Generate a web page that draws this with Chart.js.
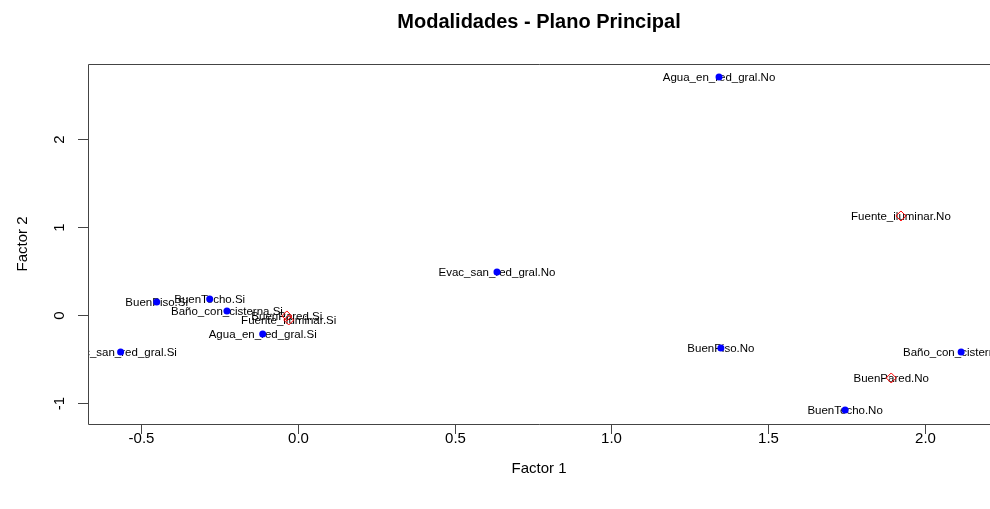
<!DOCTYPE html>
<html>
<head>
<meta charset="utf-8">
<script src="https://cdn.jsdelivr.net/npm/chart.js@4/dist/chart.umd.min.js"></script>
<style>
  html, body { margin: 0; padding: 0; background: #ffffff; }
  #wrap { width: 990px; height: 509px; position: relative; }
</style>
</head>
<body>
<div id="wrap"><canvas id="c" width="990" height="509"></canvas></div>
<script>
// Active categories (blue filled points)
const activeLabels = [
  "Agua_en_red_gral.No", "Evac_san_red_gral.No", "BuenPiso.Si", "BuenTecho.Si",
  "Baño_con_cisterna.Si", "Agua_en_red_gral.Si", "Evac_san_red_gral.Si",
  "BuenPiso.No", "Baño_con_cisterna.No", "BuenTecho.No"
];
const activeF1 = [1.343, 0.635, -0.450, -0.281, -0.226, -0.112, -0.565, 1.349, 2.115, 1.745];
const activeF2 = [2.705, 0.489, 0.148, 0.182, 0.045, -0.216, -0.420, -0.375, -0.420, -1.080];

// Supplementary categories (red open diamonds)
const supLabels = ["Fuente_iluminar.No", "BuenPared.No", "BuenPared.Si", "Fuente_iluminar.Si"];
const supF1 = [1.923, 1.892, -0.035, -0.029];
const supF2 = [1.125, -0.716, -0.011, -0.057];

// Axis ticks
const xTicks = [-0.5, 0.0, 0.5, 1.0, 1.5, 2.0];
const xTickLabels = ["-0.5", "0.0", "0.5", "1.0", "1.5", "2.0"];
const yTicks = [-1, 0, 1, 2];
const yTickLabels = ["-1", "0", "1", "2"];

const FONT = "'Liberation Sans', Arial, sans-serif";

const toPoints = (xs, ys) => xs.map((x, i) => ({ x: x, y: ys[i] }));

// Draws the frame, ticks, axis titles, main title and point labels
const framePlugin = {
  id: 'frame',
  beforeDatasetsDraw(chart) {
    const ctx = chart.ctx;
    const a = chart.chartArea;
    const xs = chart.scales.x, ys = chart.scales.y;
    ctx.save();
    // labels are clipped to the plotting region
    ctx.beginPath();
    ctx.rect(a.left, a.top, chart.width - a.left, a.bottom - a.top);
    ctx.clip();
    ctx.fillStyle = '#000';
    ctx.font = '11.5px ' + FONT;
    ctx.textAlign = 'center';
    ctx.textBaseline = 'middle';
    activeLabels.forEach((t, i) => {
      ctx.fillText(t, xs.getPixelForValue(activeF1[i]), ys.getPixelForValue(activeF2[i]) + 1);
    });
    supLabels.forEach((t, i) => {
      ctx.fillText(t, xs.getPixelForValue(supF1[i]), ys.getPixelForValue(supF2[i]) + 1);
    });
    ctx.restore();
  },
  afterDraw(chart) {
    const ctx = chart.ctx;
    const a = chart.chartArea;
    const xs = chart.scales.x, ys = chart.scales.y;
    ctx.save();
    // box (right side falls outside the canvas)
    ctx.strokeStyle = '#444';
    ctx.lineWidth = 1;
    ctx.beginPath();
    ctx.moveTo(chart.width + 5, Math.round(a.top) + 0.5);
    ctx.lineTo(Math.round(a.left) + 0.5, Math.round(a.top) + 0.5);
    ctx.lineTo(Math.round(a.left) + 0.5, Math.round(a.bottom) + 0.5);
    ctx.lineTo(chart.width + 5, Math.round(a.bottom) + 0.5);
    ctx.stroke();

    // x ticks
    ctx.fillStyle = '#000';
    ctx.font = '15px ' + FONT;
    ctx.textAlign = 'center';
    ctx.textBaseline = 'middle';
    xTicks.forEach((v, i) => {
      const px = Math.round(xs.getPixelForValue(v)) + 0.5;
      ctx.beginPath();
      ctx.moveTo(px, a.bottom);
      ctx.lineTo(px, a.bottom + 10);
      ctx.stroke();
      ctx.fillText(xTickLabels[i], px, a.bottom + 15);
    });
    // y ticks (rotated labels)
    yTicks.forEach((v, i) => {
      const py = Math.round(ys.getPixelForValue(v)) + 0.5;
      ctx.beginPath();
      ctx.moveTo(a.left, py);
      ctx.lineTo(a.left - 10, py);
      ctx.stroke();
      ctx.save();
      ctx.translate(a.left - 28, py);
      ctx.rotate(-Math.PI / 2);
      ctx.fillText(yTickLabels[i], 0, 0);
      ctx.restore();
    });
    // axis titles
    const cx = (xs.getPixelForValue(xs.min) + xs.getPixelForValue(xs.max)) / 2;
    ctx.fillText('Factor 1', cx, a.bottom + 45);
    ctx.save();
    ctx.translate(23, (a.top + a.bottom) / 2);
    ctx.rotate(-Math.PI / 2);
    ctx.fillText('Factor 2', 0, 0);
    ctx.restore();
    // main title
    ctx.font = 'bold 20px ' + FONT;
    ctx.fillText('Modalidades - Plano Principal', cx, 22);
    ctx.restore();
  }
};

new Chart(document.getElementById('c'), {
  type: 'scatter',
  data: {
    datasets: [
      {
        label: 'Activas',
        data: toPoints(activeF1, activeF2),
        pointStyle: 'circle',
        pointRadius: 3.5,
        backgroundColor: '#0000ff',
        borderColor: '#0000ff',
        borderWidth: 0
      },
      {
        label: 'Suplementarias',
        data: toPoints(supF1, supF2),
        pointStyle: 'rectRot',
        pointRadius: 5,
        backgroundColor: 'rgba(0,0,0,0)',
        borderColor: '#ff0000',
        borderWidth: 1
      }
    ]
  },
  options: {
    responsive: false,
    animation: false,
    devicePixelRatio: 1,
    layout: { autoPadding: false, padding: { left: 88, top: 64, right: 0, bottom: 85 } },
    plugins: {
      legend: { display: false },
      tooltip: { enabled: false },
      title: { display: false }
    },
    scales: {
      x: {
        type: 'linear',
        min: -0.669, max: 2.207,
        ticks: { display: false },
        grid: { display: false, drawTicks: false },
        border: { display: false }
      },
      y: {
        type: 'linear',
        min: -1.239, max: 2.852,
        ticks: { display: false },
        grid: { display: false, drawTicks: false },
        border: { display: false }
      }
    }
  },
  plugins: [framePlugin]
});
</script>
</body>
</html>
